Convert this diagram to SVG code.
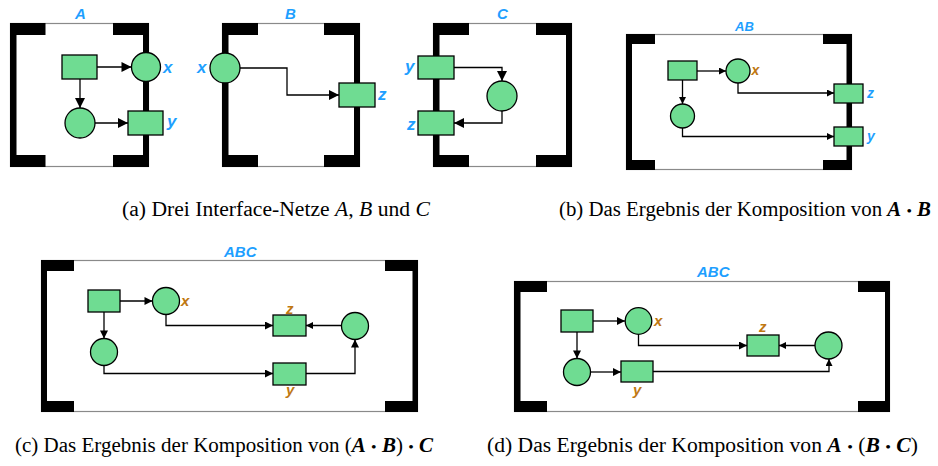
<svg xmlns="http://www.w3.org/2000/svg" width="938" height="466" viewBox="0 0 938 466">
<style>
.bg{fill:#ffffff}
.outl{fill:none;stroke:#8a8a8a;stroke-width:1.2}
.bar{fill:#000000}
.pl{fill:#6fdc92;stroke:#000;stroke-width:1.3}
.tr{fill:#6fdc92;stroke:#000;stroke-width:1.3}
.cn{fill:none;stroke:#000;stroke-width:1.3}
.lb{font-family:"Liberation Sans",Arial,sans-serif;font-weight:bold;font-style:italic;fill:#1e9fff}
.lo{font-family:"Liberation Sans",Arial,sans-serif;font-weight:bold;font-style:italic;fill:#c07812}
.cap{font-family:"Liberation Serif","Times New Roman",serif;font-size:20px;fill:#000}
.mi{font-style:italic}
.mb{font-style:italic;font-weight:bold}
.dot{font-size:15px}
</style>
<defs>
<marker id="ahL" viewBox="0 0 10 10" refX="10" refY="5" markerWidth="11" markerHeight="10" markerUnits="userSpaceOnUse" orient="auto"><path d="M0,0 L10,5 L0,10 z" fill="#000"/></marker>
<marker id="ahM" viewBox="0 0 10 10" refX="10" refY="5" markerWidth="10" markerHeight="8" markerUnits="userSpaceOnUse" orient="auto"><path d="M0,0 L10,5 L0,10 z" fill="#000"/></marker>
<marker id="ahS" viewBox="0 0 10 10" refX="10" refY="5" markerWidth="8" markerHeight="7" markerUnits="userSpaceOnUse" orient="auto"><path d="M0,0 L10,5 L0,10 z" fill="#000"/></marker>
</defs>
<rect class="bg" x="0" y="0" width="938" height="466"/>

<!-- Frames -->
<g id="frameA">
<rect class="outl" x="10.5" y="23.5" width="138" height="143"/>
<rect class="bar" x="10" y="23" width="6.5" height="144"/>
<rect class="bar" x="143" y="23" width="6" height="144"/>
<rect class="bar" x="10" y="23" width="35.5" height="12"/>
<rect class="bar" x="113" y="23" width="36" height="12"/>
<rect class="bar" x="10" y="155" width="35.5" height="12"/>
<rect class="bar" x="113" y="155" width="36" height="12"/>
<text class="lb" x="75" y="19" font-size="15">A</text>
</g>
<g id="frameB">
<rect class="outl" x="222.5" y="23.5" width="137" height="143"/>
<rect class="bar" x="222" y="23" width="6.5" height="144"/>
<rect class="bar" x="354" y="23" width="6" height="144"/>
<rect class="bar" x="222" y="23" width="36" height="12"/>
<rect class="bar" x="324" y="23" width="36" height="12"/>
<rect class="bar" x="222" y="155" width="36" height="12"/>
<rect class="bar" x="324" y="155" width="36" height="12"/>
<text class="lb" x="285" y="19" font-size="15">B</text>
</g>
<g id="frameC">
<rect class="outl" x="433.5" y="23.5" width="138" height="143"/>
<rect class="bar" x="433" y="23" width="6.5" height="144"/>
<rect class="bar" x="566" y="23" width="6" height="144"/>
<rect class="bar" x="433" y="23" width="36" height="12"/>
<rect class="bar" x="536" y="23" width="36" height="12"/>
<rect class="bar" x="433" y="155" width="36" height="12"/>
<rect class="bar" x="536" y="155" width="36" height="12"/>
<text class="lb" x="497" y="19" font-size="15">C</text>
</g>
<g id="frameAB">
<rect class="outl" x="626.5" y="34.5" width="225" height="135"/>
<rect class="bar" x="626" y="34" width="6" height="136"/>
<rect class="bar" x="846.5" y="34" width="5.5" height="136"/>
<rect class="bar" x="626" y="34" width="29" height="10"/>
<rect class="bar" x="823" y="34" width="29" height="10"/>
<rect class="bar" x="626" y="160" width="29" height="10"/>
<rect class="bar" x="823" y="160" width="29" height="10"/>
<text class="lb" x="735" y="30.5" font-size="13">AB</text>
</g>
<g id="frameABC1">
<rect class="outl" x="41.5" y="260.5" width="376" height="151"/>
<rect class="bar" x="41" y="260" width="6" height="152"/>
<rect class="bar" x="412.5" y="260" width="5.5" height="152"/>
<rect class="bar" x="41" y="260" width="33" height="11"/>
<rect class="bar" x="385" y="260" width="33" height="11"/>
<rect class="bar" x="41" y="401" width="33" height="11"/>
<rect class="bar" x="385" y="401" width="33" height="11"/>
<text class="lb" x="224" y="256.5" font-size="15">ABC</text>
</g>
<g id="frameABC2">
<rect class="outl" x="514.5" y="281.5" width="375" height="130"/>
<rect class="bar" x="514" y="281" width="6.5" height="131"/>
<rect class="bar" x="885" y="281" width="5" height="131"/>
<rect class="bar" x="514" y="281" width="33" height="11"/>
<rect class="bar" x="858" y="281" width="32" height="11"/>
<rect class="bar" x="514" y="401" width="33" height="11"/>
<rect class="bar" x="858" y="401" width="32" height="11"/>
<text class="lb" x="697" y="276.5" font-size="15">ABC</text>
</g>

<!-- Connectors -->
<g id="connectors">
<path class="cn" d="M97,67 H131.5" marker-end="url(#ahL)"/>
<path class="cn" d="M80,79 V108" marker-end="url(#ahL)"/>
<path class="cn" d="M95,123 H128" marker-end="url(#ahL)"/>

<path class="cn" d="M240,68 H287 V95 H339" marker-end="url(#ahL)"/>

<path class="cn" d="M454,67.5 H502 V81" marker-end="url(#ahL)"/>
<path class="cn" d="M502,111 V123 H454" marker-end="url(#ahL)"/>

<path class="cn" d="M697,71 H726" marker-end="url(#ahS)"/>
<path class="cn" d="M682.5,80 V104" marker-end="url(#ahS)"/>
<path class="cn" d="M738,83 V93 H834" marker-end="url(#ahS)"/>
<path class="cn" d="M682.5,128 V136.5 H834" marker-end="url(#ahS)"/>

<path class="cn" d="M120,301 H152.5" marker-end="url(#ahM)"/>
<path class="cn" d="M104,312 V338.5" marker-end="url(#ahM)"/>
<path class="cn" d="M166,314.5 V325.5 H273" marker-end="url(#ahM)"/>
<path class="cn" d="M341.5,325.5 H306" marker-end="url(#ahS)"/>
<path class="cn" d="M104,365.5 V373.5 H273" marker-end="url(#ahM)"/>
<path class="cn" d="M306,373.5 H355 V339.5" marker-end="url(#ahM)"/>

<path class="cn" d="M593,321 H625" marker-end="url(#ahM)"/>
<path class="cn" d="M577,332 V358.5" marker-end="url(#ahM)"/>
<path class="cn" d="M590.5,372 H621" marker-end="url(#ahM)"/>
<path class="cn" d="M638.5,334.5 V345.5 H747" marker-end="url(#ahM)"/>
<path class="cn" d="M815,345.5 H779" marker-end="url(#ahS)"/>
<path class="cn" d="M653,371.5 H829 V359" marker-end="url(#ahS)"/>
</g>

<!-- Panel A nodes -->
<g id="A_t1"><rect class="tr" x="62" y="55" width="35" height="24"/></g>
<g id="A_x"><circle class="pl" cx="146" cy="67" r="14.5"/><text class="lb" x="163" y="73" font-size="17">x</text></g>
<g id="A_p2"><circle class="pl" cx="80" cy="123" r="15"/></g>
<g id="A_y"><rect class="tr" x="128" y="111" width="35" height="24"/><text class="lb" x="167" y="127" font-size="17">y</text></g>

<!-- Panel B nodes -->
<g id="B_x"><circle class="pl" cx="225" cy="68" r="15"/><text class="lb" x="197" y="73" font-size="17">x</text></g>
<g id="B_z"><rect class="tr" x="339" y="83" width="36" height="24"/><text class="lb" x="378" y="100" font-size="17">z</text></g>

<!-- Panel C nodes -->
<g id="C_y"><rect class="tr" x="418" y="56" width="36" height="23"/><text class="lb" x="405" y="72" font-size="17">y</text></g>
<g id="C_p"><circle class="pl" cx="502" cy="96" r="15"/></g>
<g id="C_z"><rect class="tr" x="418" y="111" width="36" height="24"/><text class="lb" x="407" y="130" font-size="17">z</text></g>

<!-- Panel AB nodes -->
<g id="AB_t1"><rect class="tr" x="668" y="61" width="29" height="19"/></g>
<g id="AB_x"><circle class="pl" cx="738" cy="71" r="12"/><text class="lo" x="751.5" y="75" font-size="14">x</text></g>
<g id="AB_p2"><circle class="pl" cx="682.5" cy="116" r="12"/></g>
<g id="AB_z"><rect class="tr" x="834" y="84" width="29" height="19"/><text class="lb" x="867" y="98" font-size="14">z</text></g>
<g id="AB_y"><rect class="tr" x="834" y="127" width="29" height="19"/><text class="lb" x="867" y="141" font-size="14">y</text></g>

<!-- Panel ABC (c) nodes -->
<g id="c_t1"><rect class="tr" x="88" y="290" width="32" height="22"/></g>
<g id="c_x"><circle class="pl" cx="166" cy="301" r="13.5"/><text class="lo" x="181" y="305.5" font-size="15">x</text></g>
<g id="c_p2"><circle class="pl" cx="104" cy="352" r="13.5"/></g>
<g id="c_z"><rect class="tr" x="273" y="315" width="33" height="21"/><text class="lo" x="286" y="313.5" font-size="15">z</text></g>
<g id="c_p3"><circle class="pl" cx="355" cy="326" r="13.5"/></g>
<g id="c_y"><rect class="tr" x="273" y="363" width="33" height="22"/><text class="lo" x="286" y="395" font-size="15">y</text></g>

<!-- Panel ABC (d) nodes -->
<g id="d_t1"><rect class="tr" x="561" y="310" width="32" height="22"/></g>
<g id="d_x"><circle class="pl" cx="638.5" cy="321" r="13.3"/><text class="lo" x="654" y="325.5" font-size="15">x</text></g>
<g id="d_p2"><circle class="pl" cx="577" cy="372" r="13.5"/></g>
<g id="d_y"><rect class="tr" x="621" y="361" width="32" height="21"/><text class="lo" x="633" y="395" font-size="15">y</text></g>
<g id="d_z"><rect class="tr" x="747" y="335" width="32" height="21"/><text class="lo" x="759" y="332" font-size="15">z</text></g>
<g id="d_p3"><circle class="pl" cx="828.5" cy="345.5" r="13.5"/></g>

<!-- Captions -->
<text class="cap" x="122" y="216" textLength="308" lengthAdjust="spacingAndGlyphs">(a) Drei Interface-Netze <tspan class="mi">A</tspan>, <tspan class="mi">B</tspan> und <tspan class="mi">C</tspan></text>
<text class="cap" x="559" y="216" textLength="372" lengthAdjust="spacingAndGlyphs">(b) Das Ergebnis der Komposition von <tspan class="mb">A</tspan> <tspan class="dot">•</tspan> <tspan class="mb">B</tspan></text>
<text class="cap" x="15" y="452" textLength="418" lengthAdjust="spacingAndGlyphs">(c) Das Ergebnis der Komposition von (<tspan class="mb">A</tspan> <tspan class="dot">•</tspan> <tspan class="mb">B</tspan>) <tspan class="dot">•</tspan> <tspan class="mb">C</tspan></text>
<text class="cap" x="487" y="452" textLength="431" lengthAdjust="spacingAndGlyphs">(d) Das Ergebnis der Komposition von <tspan class="mb">A</tspan> <tspan class="dot">•</tspan> (<tspan class="mb">B</tspan> <tspan class="dot">•</tspan> <tspan class="mb">C</tspan>)</text>
</svg>
